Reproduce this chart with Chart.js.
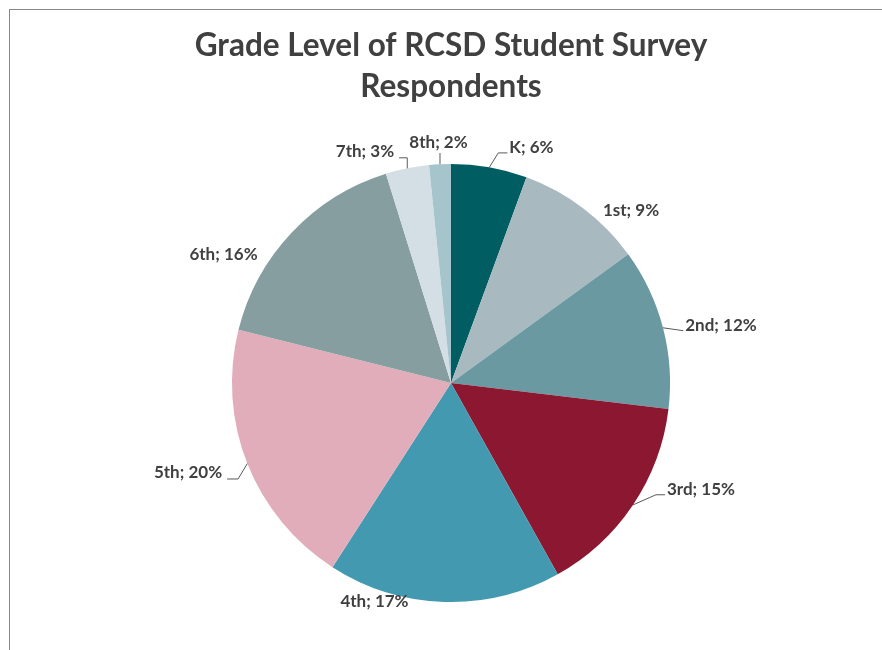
<!DOCTYPE html>
<html>
<head>
<meta charset="utf-8">
<script src="https://cdn.jsdelivr.net/npm/chart.js@4"></script>
<style>
  html, body { margin: 0; padding: 0; background: #fff; }
  #wrap { position: relative; width: 882px; height: 650px; }
  #frame { position: absolute; left: 9px; top: 9px; right: 0; bottom: 0;
           border-top: 1px solid #888; border-left: 1px solid #888; }
  canvas { position: absolute; left: 0; top: 0; }
</style>
</head>
<body>
<div id="wrap">
  <div id="frame"></div>
  <canvas id="chart" width="882" height="650"></canvas>
</div>
<script>
// data
const categories = ["K", "1st", "2nd", "3rd", "4th", "5th", "6th", "7th", "8th"];
const shares = [5.6, 9.4, 11.9, 15.0, 17.2, 19.8, 16.3, 3.2, 1.6];
const sliceColors = ["#005e63", "#a9b9c0", "#6a99a2", "#8c1730", "#4399b0",
                     "#e2adbb", "#869e9f", "#d3dfe5", "#a5c4cb"];

// label placement: [angle shift from slice middle (deg), distance as share of radius]
const labelPlace = [[8.8, 1.134], [9.2, 1.137], [2.6, 1.26], [-10.7, 1.241], [17.5, 1.057],
                    [2.7, 1.269], [-13.9, 1.193], [-8.9, 1.126], [-0.1, 1.097]];
// leader lines: null = none, side of label they attach to, elbow kind
const leaders = [
  { side: "left", elbow: "h" }, null, { side: "left", elbow: "none" }, { side: "left", elbow: "h" },
  null, { side: "right", elbow: "h" }, null, { side: "right", elbow: "v" }, { side: "bottom", elbow: "none" }
];

const total = shares.reduce((a, b) => a + b, 0);

// draws "K; 6%" style labels with leader lines
const sliceLabels = {
  id: "sliceLabels",
  afterDatasetsDraw(chart) {
    const ctx = chart.ctx;
    const meta = chart.getDatasetMeta(0);
    ctx.save();
    ctx.font = "bold 17px Lato";
    ctx.fillStyle = "#404040";
    ctx.strokeStyle = "#595959";
    ctx.lineWidth = 1;
    ctx.textAlign = "center";
    ctx.textBaseline = "middle";
    meta.data.forEach((arc, i) => {
      const p = arc.getProps(["x", "y", "startAngle", "endAngle", "outerRadius"], true);
      const mid = (p.startAngle + p.endAngle) / 2;
      const a = mid + labelPlace[i][0] * Math.PI / 180;
      const lx = p.x + Math.cos(a) * p.outerRadius * labelPlace[i][1];
      const ly = p.y + Math.sin(a) * p.outerRadius * labelPlace[i][1];
      const text = categories[i] + "; " + Math.round(shares[i] / total * 100) + "%";
      ctx.fillText(text, lx, ly);

      const ld = leaders[i];
      if (!ld) return;
      const w = ctx.measureText(text).width;
      const sx = p.x + Math.cos(mid) * p.outerRadius;
      const sy = p.y + Math.sin(mid) * p.outerRadius;
      let ax, ay;
      if (ld.side === "left") { ax = lx - w / 2 - 2; ay = ly + 5; }
      else if (ld.side === "right") { ax = lx + w / 2 + 5; ay = ly + 6; }
      else { ax = sx; ay = ly + 10; }
      ctx.beginPath();
      ctx.moveTo(sx, sy);
      if (ld.elbow === "h") {
        ctx.lineTo(ld.side === "left" ? ax - 9 : ax + 11, ay);
      } else if (ld.elbow === "v") {
        ctx.lineTo(sx, ay);
      }
      ctx.lineTo(ax, ay);
      ctx.stroke();
    });
    ctx.restore();
  }
};

new Chart(document.getElementById("chart"), {
  type: "pie",
  data: {
    labels: categories,
    datasets: [{
      data: shares,
      backgroundColor: sliceColors,
      borderWidth: 0
    }]
  },
  options: {
    responsive: false,
    animation: false,
    layout: { padding: { left: 20, right: 0, top: 0, bottom: 48 } },
    plugins: {
      legend: { display: false },
      tooltip: { enabled: false },
      title: {
        display: true,
        text: ["Grade Level of RCSD Student Survey", "Respondents"],
        color: "#404040",
        font: { family: "Lato", size: 31.5, weight: "bold", lineHeight: 1.3 },
        padding: { top: 25.5, bottom: 56.5 }
      }
    }
  },
  plugins: [sliceLabels]
});
</script>
</body>
</html>
